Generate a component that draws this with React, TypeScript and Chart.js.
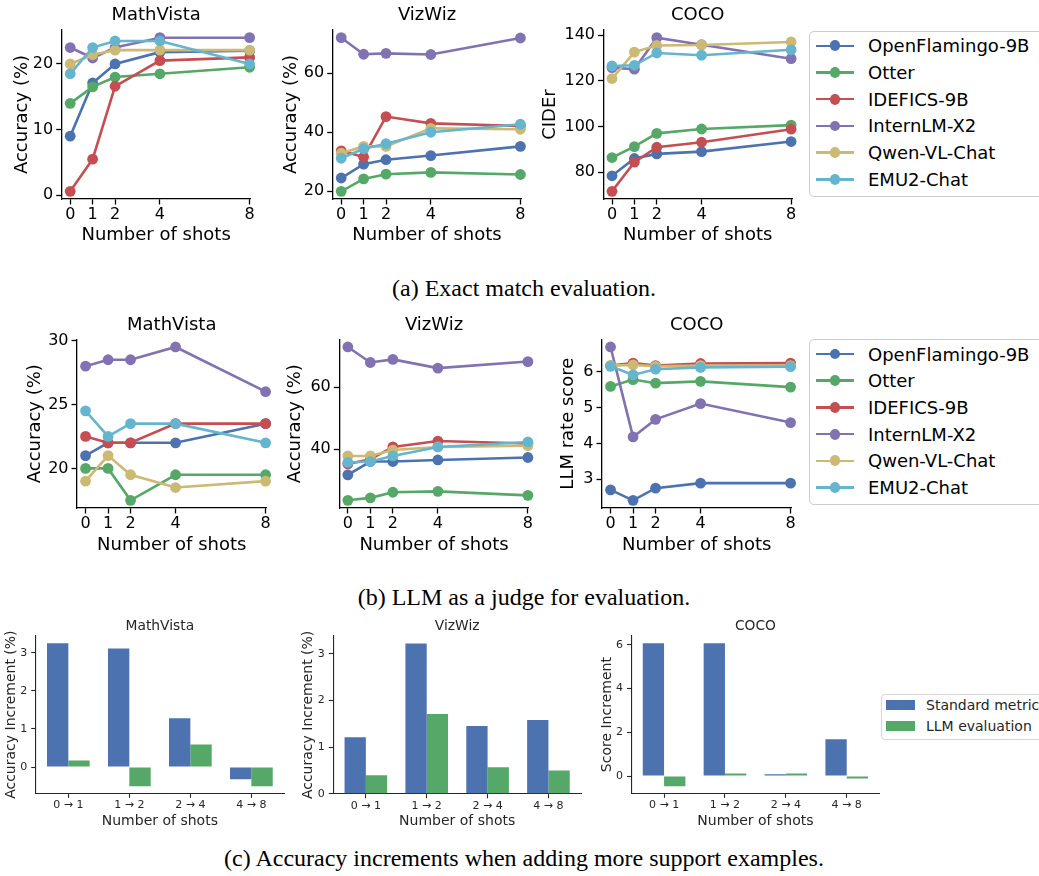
import React, { useEffect, useRef } from "react";
import { Chart, registerables } from "chart.js";

Chart.register(...registerables);

const FAMILY = "'DejaVu Sans', 'Noto Sans', sans-serif";
Chart.defaults.font.family = FAMILY;

// ---------------- data ----------------
const models = ["OpenFlamingo-9B", "Otter", "IDEFICS-9B", "InternLM-X2", "Qwen-VL-Chat", "EMU2-Chat"];
const modelColors = ["#4C72B0", "#55A868", "#C44E52", "#8172B2", "#CCB974", "#64B5CD"];
const shots = [0, 1, 2, 4, 8];
const shotTickLabels = ["0", "1", "2", "4", "8"];

// (a) exact match
const exactMathVista = [
  [9.0, 17.1, 20.0, 21.8, 22.0],
  [14.0, 16.5, 18.0, 18.5, 19.5],
  [0.6, 5.5, 16.6, 20.5, 21.0],
  [22.5, 20.9, 22.5, 24.0, 24.0],
  [20.0, 21.4, 22.1, 22.1, 22.1],
  [18.5, 22.5, 23.5, 23.5, 20.0],
];
const exactVizWiz = [
  [24.5, 29.2, 30.7, 32.1, 35.2],
  [20.0, 24.2, 25.8, 26.4, 25.7],
  [33.7, 31.6, 45.3, 43.0, 42.1],
  [72.0, 66.4, 66.7, 66.3, 71.9],
  [32.9, 35.2, 35.2, 41.3, 41.0],
  [31.2, 34.4, 36.1, 40.0, 42.7],
];
const exactCOCO = [
  [78.4, 86.0, 88.0, 89.0, 93.4],
  [86.4, 91.2, 97.0, 98.9, 100.6],
  [71.6, 84.4, 90.9, 93.1, 98.8],
  [125.8, 125.1, 138.9, 135.8, 129.7],
  [121.0, 132.6, 135.5, 135.7, 137.0],
  [126.5, 126.8, 132.2, 131.2, 133.6],
];

// (b) LLM as a judge
const llmMathVista = [
  [21.0, 22.0, 22.0, 22.0, 23.5],
  [20.0, 20.0, 17.5, 19.5, 19.5],
  [22.5, 22.0, 22.0, 23.5, 23.5],
  [28.0, 28.5, 28.5, 29.5, 26.0],
  [19.0, 21.0, 19.5, 18.5, 19.0],
  [24.5, 22.5, 23.5, 23.5, 22.0],
];
const llmVizWiz = [
  [31.7, 36.0, 36.0, 36.5, 37.3],
  [23.5, 24.3, 26.1, 26.4, 25.1],
  [35.2, 36.7, 40.7, 42.6, 41.8],
  [72.9, 67.9, 68.9, 66.1, 68.2],
  [37.8, 37.8, 39.7, 40.7, 41.1],
  [35.7, 36.0, 37.8, 40.7, 42.3],
];
const llmCOCO = [
  [2.7, 2.41, 2.75, 2.89, 2.89],
  [5.59, 5.78, 5.68, 5.73, 5.57],
  [6.17, 6.24, 6.17, 6.23, 6.24],
  [6.69, 4.18, 4.67, 5.11, 4.58],
  [6.17, 6.19, 6.15, 6.17, 6.17],
  [6.15, 5.91, 6.07, 6.12, 6.14],
];

// (c) increments
const incrementLabels = ["0 → 1", "1 → 2", "2 → 4", "4 → 8"];
const barSeries = ["Standard metric", "LLM evaluation"];
const barColors = ["#4C72B0", "#55A868"];
const incMathVistaStd = [3.25, 3.11, 1.28, -0.32];
const incMathVistaLLM = [0.175, -0.5, 0.59, -0.5];
const incVizWizStd = [1.21, 3.22, 1.45, 1.58];
const incVizWizLLM = [0.4, 1.71, 0.57, 0.5];
const incCOCOStd = [6.08, 6.08, 0.08, 1.68];
const incCOCOLLM = [-0.46, 0.12, 0.12, -0.11];

// tick values
const yTicksExactMathVista = [0, 10, 20];
const yTicksExactVizWiz = [20, 40, 60];
const yTicksExactCOCO = [80, 100, 120, 140];
const yTicksLlmMathVista = [20, 25, 30];
const yTicksLlmVizWiz = [40, 60];
const yTicksLlmCOCO = [3, 4, 5, 6];
const yTicksIncMathVista = [0, 1, 2, 3];
const yTicksIncVizWiz = [0, 1, 2, 3];
const yTicksIncCOCO = [0, 2, 4, 6];

const captions = [
  "(a) Exact match evaluation.",
  "(b) LLM as a judge for evaluation.",
  "(c) Accuracy increments when adding more support examples.",
];

// ---------------- helpers ----------------
function autoRange(values: number[], sticky0: boolean) {
  let lo = Math.min(...values);
  let hi = Math.max(...values);
  if (sticky0) {
    lo = Math.min(lo, 0);
    hi = Math.max(hi, 0);
  }
  const m = (hi - lo) * 0.05;
  let min = lo - m;
  let max = hi + m;
  if (sticky0) {
    if (lo === 0) min = 0;
    if (hi === 0) max = 0;
  }
  return { min, max };
}

type Box = { l: number; t: number; r: number; b: number };
type Spec = {
  kind: "line" | "bar";
  title: string;
  ylabel: string;
  xlabel: string;
  series: number[][];
  yTicks: number[];
  plot: Box;
  titleY: number;
  xlabelY: number;
  ylabelX: number;
  titleSize: number;
  labelSize: number;
  tickSize: number;
  textColor: string;
  axisColor: string;
  axisWidth: number;
  tickLen: number;
  xTickPad: number;
  yTickPad: number;
  rightSpace: number;
};

function geometry(s: Spec) {
  const lhT = s.titleSize * 1.2;
  const lhL = s.labelSize * 1.2;
  const cl = Math.floor(s.ylabelX - lhL / 2 - 2);
  const ct = Math.floor(s.titleY - lhT / 2 - 2);
  const cw = Math.ceil(s.plot.r + s.rightSpace - cl);
  const ch = Math.ceil(s.xlabelY + lhL / 2 + 3 - ct);
  const L = s.plot.l - cl;
  const T = s.plot.t - ct;
  const padRight = cw - (s.plot.r - cl);
  const B = ch - (s.plot.b - ct);
  const tpt = s.titleY - ct - lhT / 2;
  const tpb = Math.max(T - lhT - tpt, 0);
  const yTitlePad = s.ylabelX - cl - lhL / 2;
  const xTitlePad = ch - (s.xlabelY - ct) - lhL / 2;
  return { cl, ct, cw, ch, L, T, padRight, B, tpt, tpb, yTitlePad, xTitlePad };
}

function makeConfig(s: Spec, g: ReturnType<typeof geometry>): any {
  const isLine = s.kind === "line";
  const datasets = isLine
    ? s.series.map((vals, i) => ({
        type: "line",
        label: models[i],
        data: shots.map((x, j) => ({ x, y: vals[j] })),
        borderColor: modelColors[i],
        backgroundColor: modelColors[i],
        pointBackgroundColor: modelColors[i],
        pointBorderWidth: 0,
        pointRadius: 5.4,
        pointHoverRadius: 5.4,
        borderWidth: 2.6,
        tension: 0,
        fill: false,
        clip: false,
        order: s.series.length - i,
      }))
    : s.series.map((vals, i) => ({
        type: "bar",
        label: barSeries[i],
        data: vals.map((y, j) => ({ x: j, y })),
        backgroundColor: barColors[i],
        borderWidth: 0,
        categoryPercentage: 0.7,
        barPercentage: 1.0,
      }));

  const allVals = s.series.flat();
  const yr = autoRange(allVals, !isLine);
  const xMin = isLine ? -0.38 : -0.535;
  const xMax = isLine ? 8.04 : 3.535;
  const xTickVals = isLine ? shots : incrementLabels.map((_, i) => i);
  const xTickText = isLine ? shotTickLabels : incrementLabels;

  const gridOpts = {
    display: true,
    drawOnChartArea: false,
    drawTicks: true,
    tickLength: s.tickLen,
    tickColor: s.axisColor,
    tickWidth: s.axisWidth,
    offset: false,
  };
  const borderOpts = { display: true, color: s.axisColor, width: s.axisWidth };

  return {
    type: isLine ? "line" : "bar",
    data: { datasets },
    options: {
      animation: false,
      responsive: false,
      maintainAspectRatio: false,
      devicePixelRatio: 1,
      events: [],
      layout: { padding: { left: 0, top: 0, bottom: 0, right: g.padRight }, autoPadding: false },
      plugins: {
        legend: { display: false },
        tooltip: { enabled: false },
        title: {
          display: true,
          text: s.title,
          fullSize: false,
          color: s.textColor,
          font: { family: FAMILY, size: s.titleSize, weight: "normal", lineHeight: 1.2 },
          padding: { top: g.tpt, bottom: g.tpb },
        },
      },
      scales: {
        x: {
          type: "linear",
          min: xMin,
          max: xMax,
          bounds: "data",
          offset: false,
          afterBuildTicks: (sc: any) => {
            sc.ticks = xTickVals.map((v) => ({ value: v }));
          },
          afterFit: (sc: any) => {
            sc.height = g.B;
          },
          grid: gridOpts,
          border: borderOpts,
          ticks: {
            autoSkip: false,
            maxRotation: 0,
            minRotation: 0,
            padding: s.xTickPad,
            color: s.textColor,
            font: { family: FAMILY, size: s.tickSize },
            callback: (_v: any, idx: number) => xTickText[idx],
          },
          title: {
            display: true,
            text: s.xlabel,
            color: s.textColor,
            font: { family: FAMILY, size: s.labelSize, lineHeight: 1.2 },
            padding: { top: 0, bottom: g.xTitlePad },
          },
        },
        y: {
          type: "linear",
          min: yr.min,
          max: yr.max,
          bounds: "data",
          afterBuildTicks: (sc: any) => {
            sc.ticks = s.yTicks.map((v) => ({ value: v }));
          },
          afterFit: (sc: any) => {
            sc.width = g.L;
          },
          grid: gridOpts,
          border: borderOpts,
          ticks: {
            autoSkip: false,
            padding: s.yTickPad,
            color: s.textColor,
            font: { family: FAMILY, size: s.tickSize },
            callback: (v: any) => String(v),
          },
          title: {
            display: true,
            text: s.ylabel,
            color: s.textColor,
            font: { family: FAMILY, size: s.labelSize, lineHeight: 1.2 },
            padding: { top: g.yTitlePad, bottom: 0 },
          },
        },
      },
    },
  };
}

function ChartPanel({ spec }: { spec: Spec }) {
  const ref = useRef<HTMLCanvasElement>(null);
  const g = geometry(spec);
  useEffect(() => {
    const chart = new Chart(ref.current as HTMLCanvasElement, makeConfig(spec, g));
    return () => chart.destroy();
  }, []);
  return (
    <canvas
      ref={ref}
      width={g.cw}
      height={g.ch}
      style={{ position: "absolute", left: g.cl, top: g.ct, width: g.cw, height: g.ch }}
    />
  );
}

// ---------------- layout ----------------
const lineStyle = {
  kind: "line" as const,
  xlabel: "Number of shots",
  titleSize: 18,
  labelSize: 18,
  tickSize: 16,
  textColor: "#000000",
  axisColor: "#000000",
  axisWidth: 1.3,
  tickLen: 5.5,
  xTickPad: 1,
  yTickPad: 3,
  rightSpace: 12,
};
const barStyle = {
  kind: "bar" as const,
  xlabel: "Number of shots",
  titleSize: 13.8,
  labelSize: 14,
  tickSize: 11,
  textColor: "#262626",
  axisColor: "#262626",
  axisWidth: 1.1,
  tickLen: 4.5,
  xTickPad: 1,
  yTickPad: 4,
  rightSpace: 10,
};

const specs: Spec[] = [
  { ...lineStyle, title: "MathVista", ylabel: "Accuracy (%)", series: exactMathVista, yTicks: yTicksExactMathVista,
    plot: { l: 61.7, t: 30, r: 250.5, b: 199 }, titleY: 15.5, xlabelY: 235, ylabelX: 22 },
  { ...lineStyle, title: "VizWiz", ylabel: "Accuracy (%)", series: exactVizWiz, yTicks: yTicksExactVizWiz,
    plot: { l: 332.7, t: 30, r: 521.3, b: 199 }, titleY: 15.5, xlabelY: 235, ylabelX: 291.7 },
  { ...lineStyle, title: "COCO", ylabel: "CIDEr", series: exactCOCO, yTicks: yTicksExactCOCO,
    plot: { l: 603.5, t: 30, r: 792, b: 199 }, titleY: 15.5, xlabelY: 235, ylabelX: 550 },
  { ...lineStyle, title: "MathVista", ylabel: "Accuracy (%)", series: llmMathVista, yTicks: yTicksLlmMathVista,
    plot: { l: 77, t: 339.3, r: 266.5, b: 508 }, titleY: 325, xlabelY: 545, ylabelX: 35 },
  { ...lineStyle, title: "VizWiz", ylabel: "Accuracy (%)", series: llmVizWiz, yTicks: yTicksLlmVizWiz,
    plot: { l: 339.3, t: 339.3, r: 528.8, b: 508 }, titleY: 325, xlabelY: 545, ylabelX: 295 },
  { ...lineStyle, title: "COCO", ylabel: "LLM rate score", series: llmCOCO, yTicks: yTicksLlmCOCO,
    plot: { l: 602, t: 339.3, r: 791.5, b: 508 }, titleY: 325, xlabelY: 545, ylabelX: 568.3 },
  { ...barStyle, title: "MathVista", ylabel: "Accuracy Increment (%)", series: [incMathVistaStd, incMathVistaLLM],
    yTicks: yTicksIncMathVista, plot: { l: 35.7, t: 636, r: 284, b: 793.3 }, titleY: 626, xlabelY: 821.7, ylabelX: 11.7 },
  { ...barStyle, title: "VizWiz", ylabel: "Accuracy Increment (%)", series: [incVizWizStd, incVizWizLLM],
    yTicks: yTicksIncVizWiz, plot: { l: 333.3, t: 636, r: 581, b: 793.8 }, titleY: 626, xlabelY: 821.7, ylabelX: 308.3 },
  { ...barStyle, title: "COCO", ylabel: "Score Increment", series: [incCOCOStd, incCOCOLLM],
    yTicks: yTicksIncCOCO, plot: { l: 631.5, t: 636, r: 879.3, b: 793.3 }, titleY: 626, xlabelY: 821.7, ylabelX: 607 },
];

function LineLegend({ top }: { top: number }) {
  return (
    <div
      style={{
        position: "absolute",
        left: 809,
        top,
        width: 240,
        height: 166,
        boxSizing: "border-box",
        border: "1px solid #cccccc",
        borderRadius: 5,
        background: "#ffffff",
      }}
    >
      {models.map((m, i) => {
        const cy = 14.3 + i * 26.7;
        return (
          <React.Fragment key={m}>
            <div style={{ position: "absolute", left: 6, top: cy - 1.3, width: 38, height: 2.6, background: modelColors[i] }} />
            <div
              style={{
                position: "absolute",
                left: 25 - 5.4,
                top: cy - 5.4,
                width: 10.8,
                height: 10.8,
                borderRadius: "50%",
                background: modelColors[i],
              }}
            />
            <div
              style={{
                position: "absolute",
                left: 58,
                top: cy - 10.5,
                height: 21,
                lineHeight: "21px",
                fontFamily: FAMILY,
                fontSize: 18,
                color: "#000",
                whiteSpace: "nowrap",
              }}
            >
              {m}
            </div>
          </React.Fragment>
        );
      })}
    </div>
  );
}

function BarLegend() {
  return (
    <div
      style={{
        position: "absolute",
        left: 881,
        top: 694,
        width: 180,
        height: 45.5,
        boxSizing: "border-box",
        border: "1px solid #d6d6d6",
        borderRadius: 4,
        background: "#ffffff",
      }}
    >
      {barSeries.map((name, i) => {
        const cy = 10 + i * 20.7;
        return (
          <React.Fragment key={name}>
            <div style={{ position: "absolute", left: 4, top: cy - 5, width: 29, height: 10, background: barColors[i] }} />
            <div
              style={{
                position: "absolute",
                left: 44,
                top: cy - 9,
                height: 18,
                lineHeight: "18px",
                fontFamily: FAMILY,
                fontSize: 14,
                color: "#262626",
                whiteSpace: "nowrap",
              }}
            >
              {name}
            </div>
          </React.Fragment>
        );
      })}
    </div>
  );
}

const captionBaselines = [296, 605.5, 866];

export default function App() {
  return (
    <div
      style={{
        position: "absolute",
        left: 0,
        top: 0,
        width: 1039,
        height: 876,
        overflow: "hidden",
        background: "#ffffff",
      }}
    >
      {specs.map((s, i) => (
        <ChartPanel key={i} spec={s} />
      ))}
      <LineLegend top={30.5} />
      <LineLegend top={338.8} />
      <BarLegend />
      {captions.map((c, i) => (
        <div
          key={c}
          style={{
            position: "absolute",
            left: 9,
            width: 1030,
            top: captionBaselines[i] - 20.1,
            textAlign: "center",
            fontFamily: "'Liberation Serif', 'Times New Roman', serif",
            fontSize: 24,
            lineHeight: "24px",
            color: "#000",
            whiteSpace: "nowrap",
          }}
        >
          {c}
        </div>
      ))}
    </div>
  );
}
